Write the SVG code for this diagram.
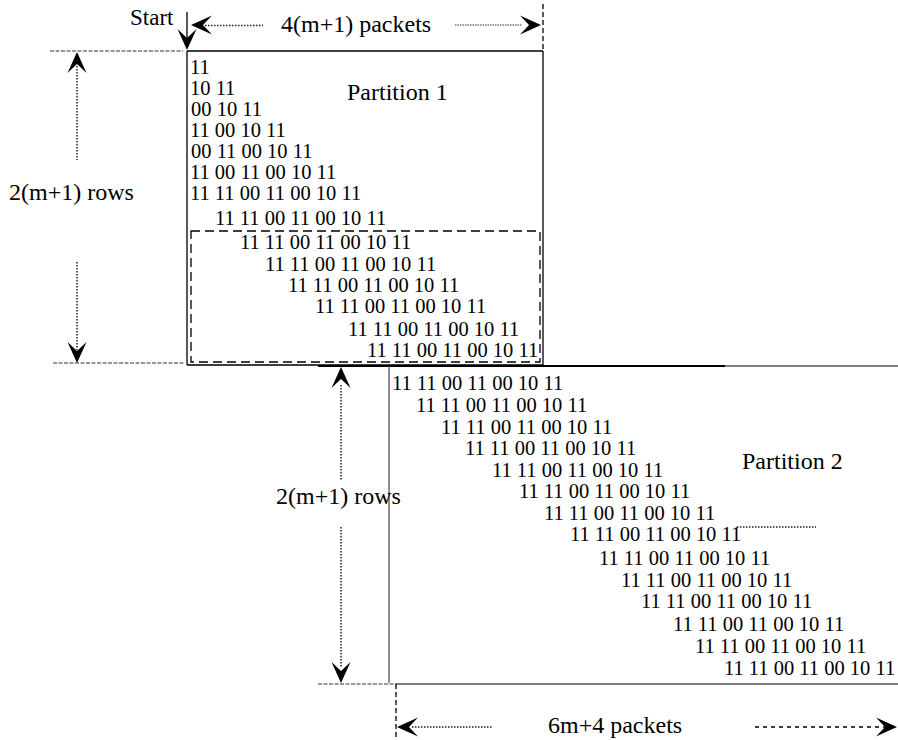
<svg xmlns="http://www.w3.org/2000/svg" width="898" height="740" viewBox="0 0 898 740" font-family="'Liberation Serif', 'Times New Roman', Times, 'DejaVu Serif', serif">
<style>
text { font-family: 'Liberation Serif', 'Times New Roman', Times, 'DejaVu Serif', serif; fill: #000; }
.lbl { font-size: 24px; }
.bits { font-size: 20.5px; white-space: pre; }
.solid { stroke: #000; stroke-width: 1.3; fill: none; }
.thick { stroke: #000; stroke-width: 1.8; fill: none; }
.gray { stroke: #555; stroke-width: 1.3; fill: none; }
.dot { stroke: #222; stroke-width: 1.5; stroke-dasharray: 1.5 1.5; fill: none; }
.dotl { stroke: #777; stroke-width: 1.3; stroke-dasharray: 1.5 1; fill: none; }
.dash { stroke: #000; stroke-width: 1.3; stroke-dasharray: 9 5; fill: none; }
.fdash { stroke: #333; stroke-width: 1.2; stroke-dasharray: 4 1.5; fill: none; }
.sdash { stroke: #000; stroke-width: 1.3; stroke-dasharray: 4 4; fill: none; }
.vdash { stroke: #000; stroke-width: 1.3; stroke-dasharray: 5 3; fill: none; }
.ah { fill: #000; }
</style>
<defs>
<path id="ah" d="M0,0 L-21,-9.5 L-12,0 L-21,9.5 Z"/>
</defs>

<g id="partition1">
  <path class="solid" d="M187,51 H543 M187,51 V365 M543,51 V365 M187,365 H543"/>
  <rect class="dash" x="191" y="231" width="349" height="131"/>
  <text class="lbl" x="347" y="100">Partition 1</text>
  <g class="bits" xml:space="preserve">
    <text x="190" y="74">11</text>
    <text x="190" y="95">10 11</text>
    <text x="191" y="116">00 10 11</text>
    <text x="190" y="137">11 00 10 11</text>
    <text x="191" y="158">00 11 00 10 11</text>
    <text x="190" y="179">11 00 11 00 10 11</text>
    <text x="190" y="200">11 11 00 11 00 10 11</text>
    <text x="215" y="225">11 11 00 11 00 10 11</text>
    <text x="240" y="249">11 11 00 11 00 10 11</text>
    <text x="265" y="271">11 11 00 11 00 10 11</text>
    <text x="288" y="292">11 11 00 11  00 10 11</text>
    <text x="315" y="313">11 11 00  11 00 10 11</text>
    <text x="348" y="336">11 11 00 11 00 10 11</text>
    <text x="367" y="357">11 11 00 11 00 10 11</text>
  </g>
</g>

<g id="partition2">
  <path class="thick" d="M318,366 H725"/>
  <path class="gray" d="M725,366 H898 M389,366 V683 M396,684 H898"/>
  <path class="fdash" d="M318,684 H396"/>
  <path class="dot" d="M737,527 H816"/>
  <text class="lbl" x="742" y="469">Partition 2</text>
  <g class="bits" xml:space="preserve">
    <text x="392" y="390">11 11 00 11 00 10  11</text>
    <text x="416" y="412">11 11 00 11 00 10 11</text>
    <text x="441" y="434">11 11 00 11 00  10 11</text>
    <text x="465" y="455">11 11 00 11 00  10 11</text>
    <text x="492" y="477">11 11 00 11 00 10 11</text>
    <text x="519" y="498">11 11 00 11 00 10 11</text>
    <text x="544" y="520">11 11 00  11 00 10 11</text>
    <text x="570" y="541">11 11 00 11 00 10  11</text>
    <text x="599" y="565">11 11 00 11 00 10 11</text>
    <text x="621" y="587">11 11 00 11 00  10 11</text>
    <text x="641" y="608">11 11 00 11 00  10 11</text>
    <text x="673" y="631">11 11 00 11 00 10 11</text>
    <text x="695" y="653">11 11 00 11 00 10 11</text>
    <text x="724" y="675">11 11 00 11 00 10 11</text>
  </g>
</g>

<g id="label-start">
  <text x="130" y="25" style="font-size:23px">Start</text>
</g>
<g id="label-width1">
  <text class="lbl" x="281" y="32">4(m+1) packets</text>
</g>
<g id="label-rows1">
  <text class="lbl" x="9" y="200">2(m+1) rows</text>
</g>
<g id="label-rows2">
  <text class="lbl" x="276" y="504">2(m+1) rows</text>
</g>
<g id="label-width2">
  <text class="lbl" x="548" y="733">6m+4 packets</text>
</g>

<g id="connectors">
  <path class="solid" d="M187,12 V40"/>
  <use href="#ah" class="ah" transform="translate(187,50) rotate(90)"/>
  <use href="#ah" class="ah" transform="translate(191,25) rotate(180)"/>
  <path class="dot" d="M205,25.5 H263"/>
  <path class="dotl" d="M455,25 H522"/>
  <use href="#ah" class="ah" transform="translate(541,25)"/>
  <path class="vdash" d="M543,4 V51"/>
  <path class="fdash" d="M50,51 H183 M53,363 H185"/>
  <use href="#ah" class="ah" transform="translate(77,52) rotate(-90)"/>
  <path class="dot" d="M77,66 V160"/>
  <path class="dot" d="M77,262 V350"/>
  <use href="#ah" class="ah" transform="translate(77,363) rotate(90)"/>
  <use href="#ah" class="ah" transform="translate(341,367) rotate(-90)"/>
  <path class="dot" d="M341,385 V481"/>
  <path class="dot" d="M341,527 V667"/>
  <use href="#ah" class="ah" transform="translate(341,683) rotate(90)"/>
  <path class="vdash" d="M396,684 V740"/>
  <use href="#ah" class="ah" transform="translate(397,727) rotate(180)"/>
  <path class="dot" d="M412,727 H493"/>
  <path class="sdash" d="M755,727 H886"/>
  <use href="#ah" class="ah" transform="translate(897,727)"/>
</g>
</svg>
